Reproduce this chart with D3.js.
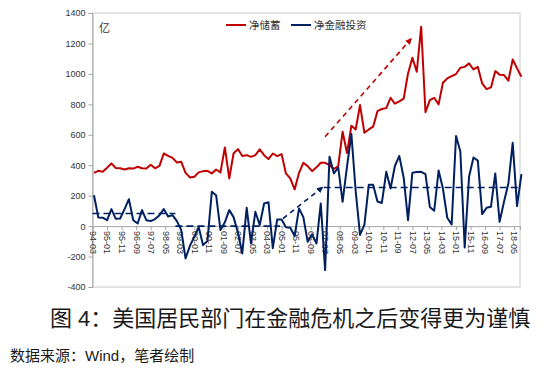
<!DOCTYPE html>
<html>
<head>
<meta charset="utf-8">
<script src="https://cdn.jsdelivr.net/npm/d3@7"></script>
<style>
  body { margin: 0; background: #fff; }
  text { font-family: "Liberation Sans", "Noto Sans CJK SC", sans-serif; }
</style>
</head>
<body>
<svg id="chart" width="549" height="375"></svg>
<script>
const seriesNames = ["净储蓄", "净金融投资"];
const colors = ["#c00000", "#002060"];

const xTickLabels = ["94-03", "95-01", "95-11", "96-09", "97-07", "98-05", "99-03", "00-01", "00-11", "01-09",
    "02-07", "03-05", "04-03", "05-01", "05-11", "06-09", "07-07", "08-05", "09-03", "10-01",
    "10-11", "11-09", "12-07", "13-05", "14-03", "15-01", "15-11", "16-09", "17-07", "18-05"];
const yTicks = [-400, -200, 0, 200, 400, 600, 800, 1000, 1200, 1400];

// quarterly, 94-03 .. 18-09
const netSaving = [350, 363, 357, 383, 412, 382, 380, 372, 380, 378, 390, 380, 378, 403, 380, 396, 477, 462, 448, 418,
    423, 350, 320, 324, 353, 361, 363, 346, 372, 353, 517, 313, 477, 506, 460, 466, 455, 466, 504, 466,
    440, 477, 460, 473, 346, 313, 241, 350, 416, 394, 361, 386, 416, 416, 400, 375, 395, 620, 480, 660,
    635, 795, 613, 635, 653, 755, 770, 775, 843, 804, 820, 838, 1003, 1106, 1014, 1310, 748, 828, 843, 800,
    942, 970, 985, 999, 1040, 1046, 1069, 1029, 1046, 937, 900, 911, 1018, 995, 992, 955, 1095, 1036, 981];
const netFinInvest = [203, 57, 55, 39, 112, 48, 50, 112, 177, 39, 17, 105, 39, 33, 46, 72, 112, 63, 72, 33,
    -25, -212, -130, -70, -6, -125, -98, 225, 203, -26, 25, 105, 59, -42, -180, 120, -114, 94, 7, 149,
    157, -145, 44, 44, -7, -11, -65, 116, 59, -103, -53, -114, 149, -289, 455, 346, 385, 160, 390, 605,
    230, -58, 10, 272, 272, 162, 152, 357, 247, 395, 461, 318, 39, 351, 355, 357, 342, 126, 101, 365,
    247, 55, 11, 592, 490, -140, 326, 451, 430, 79, 120, 127, 346, 28, 160, 280, 547, 131, 342];

// dashed guides: averages and trend arrows
const avgLines = [
    { from: "94-03", to: "98-12", value: 83 },
    { from: "98-12", to: "04-12", value: 0 },
    { from: "07-06", to: "18-09", value: 254 }
];
const blueArrow = [{ date: "05-02", value: 50 }, { date: "07-05", value: 254 }];
const redArrow = [{ date: "07-07", value: 587 }, { date: "12-06", value: 1229 }];

const parse = d3.timeParse("%y-%m");
const start = parse("94-03");
const dates = d3.timeMonth.every(3).range(start, d3.timeMonth.offset(start, 3 * netSaving.length));

const svg = d3.select("#chart");

const x = d3.scaleTime()
    .domain([start, parse("18-09")])
    .range([92.5, 520]);

const y = d3.scaleLinear()
    .domain([-400, 1400])
    .range([287, 13]);

// plot frame
svg.append("rect")
    .attr("x", 92.5).attr("y", 13)
    .attr("width", 427.5).attr("height", 274)
    .attr("fill", "none")
    .attr("stroke", "#c8c8c8");

const yAxis = svg.append("g")
    .attr("transform", "translate(92.5,0)")
    .call(d3.axisLeft(y).tickValues(yTicks).tickSize(4).tickPadding(3).tickFormat(d => String(d)));
yAxis.select(".domain").attr("stroke", "#a6a6a6");
yAxis.selectAll(".tick line").attr("stroke", "#a6a6a6");
yAxis.selectAll("text").attr("font-size", "9px").attr("fill", "#333");

const xAxis = svg.append("g")
    .attr("transform", `translate(0,${y(0)})`)
    .call(d3.axisBottom(x).tickValues(xTickLabels.map(parse)).tickSize(4).tickFormat(d3.timeFormat("%y-%m")));
xAxis.select(".domain").attr("stroke", "#a6a6a6");
xAxis.selectAll(".tick line").attr("stroke", "#a6a6a6");
xAxis.selectAll("text")
    .attr("font-size", "9px")
    .attr("fill", "#333")
    .attr("text-anchor", "start")
    .attr("transform", "rotate(90)")
    .attr("x", 5)
    .attr("y", 0)
    .attr("dy", "0.35em");

const line = d3.line()
    .x((d, i) => x(dates[i]))
    .y(d => y(d));

svg.append("path")
    .datum(netSaving)
    .attr("fill", "none")
    .attr("stroke", colors[0])
    .attr("stroke-width", 2)
    .attr("stroke-linejoin", "round")
    .attr("d", line);

svg.append("path")
    .datum(netFinInvest)
    .attr("fill", "none")
    .attr("stroke", colors[1])
    .attr("stroke-width", 2)
    .attr("stroke-linejoin", "round")
    .attr("d", line);

// arrow heads
const defs = svg.append("defs");
colors.forEach((c, i) => {
    defs.append("marker")
        .attr("id", "arrow" + i)
        .attr("viewBox", "0 0 10 10")
        .attr("refX", 8).attr("refY", 5)
        .attr("markerWidth", 4).attr("markerHeight", 4)
        .attr("orient", "auto")
        .append("path")
        .attr("d", "M0,0L10,5L0,10z")
        .attr("fill", c);
});

svg.selectAll(".avg")
    .data(avgLines)
    .join("line")
    .attr("x1", d => x(parse(d.from)))
    .attr("x2", d => x(parse(d.to)))
    .attr("y1", d => y(d.value))
    .attr("y2", d => y(d.value))
    .attr("stroke", colors[1])
    .attr("stroke-width", 1.6)
    .attr("stroke-dasharray", "7,4");

svg.append("line")
    .attr("x1", x(parse(blueArrow[0].date))).attr("y1", y(blueArrow[0].value))
    .attr("x2", x(parse(blueArrow[1].date))).attr("y2", y(blueArrow[1].value))
    .attr("stroke", colors[1])
    .attr("stroke-width", 1.6)
    .attr("stroke-dasharray", "5,4")
    .attr("marker-end", "url(#arrow1)");

svg.append("line")
    .attr("x1", x(parse(redArrow[0].date))).attr("y1", y(redArrow[0].value))
    .attr("x2", x(parse(redArrow[1].date))).attr("y2", y(redArrow[1].value))
    .attr("stroke", colors[0])
    .attr("stroke-width", 1.6)
    .attr("stroke-dasharray", "5,4")
    .attr("marker-end", "url(#arrow0)");

// legend
const legend = svg.append("g").attr("transform", "translate(226,25)");
seriesNames.forEach((name, i) => {
    const g = legend.append("g").attr("transform", `translate(${i * 65},0)`);
    g.append("line").attr("x1", 0).attr("x2", 20).attr("stroke", colors[i]).attr("stroke-width", 2);
    g.append("text").attr("x", 23).attr("dy", "0.35em").attr("font-size", "10.5px").attr("fill", "#333").text(name);
});

svg.append("text")
    .attr("x", 99).attr("y", 32)
    .attr("font-size", "11px")
    .attr("fill", "#333")
    .text("亿");

svg.append("text")
    .attr("x", 50).attr("y", 326)
    .attr("font-size", "22px")
    .attr("fill", "#1a1a1a")
    .text("图 4：美国居民部门在金融危机之后变得更为谨慎");

svg.append("text")
    .attr("x", 10).attr("y", 361)
    .attr("font-size", "15px")
    .attr("fill", "#1a1a1a")
    .text("数据来源：Wind，笔者绘制");
</script>
</body>
</html>
